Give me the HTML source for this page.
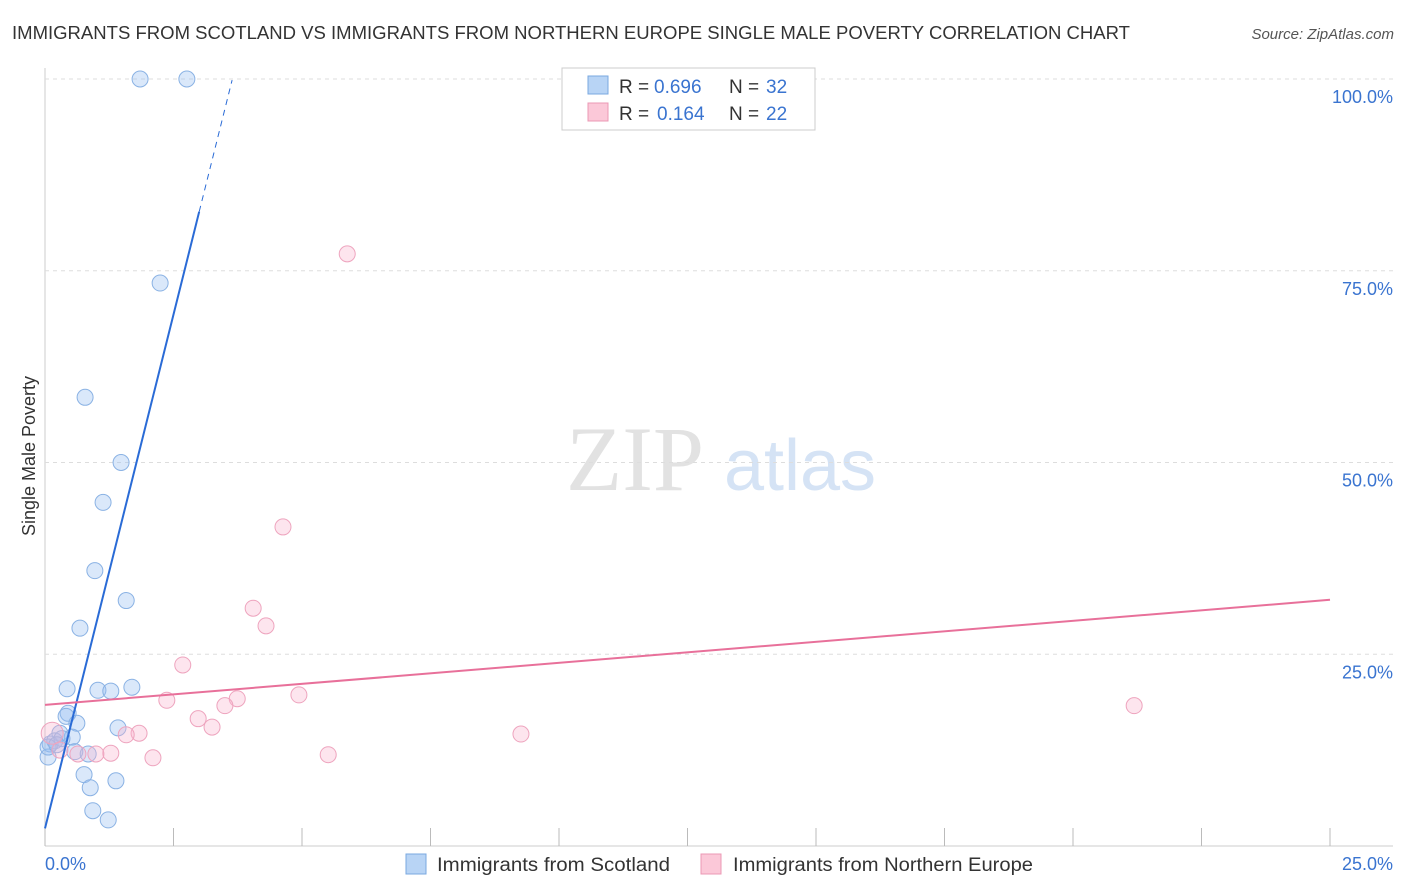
<!DOCTYPE html>
<html><head><meta charset="utf-8"><style>
body{margin:0;background:#fff;font-family:"Liberation Sans",sans-serif;}
svg{display:block}
</style></head><body>
<svg id="chart" width="1406" height="892">
<text x="12" y="39" font-size="18" fill="#333" textLength="1118" lengthAdjust="spacingAndGlyphs">IMMIGRANTS FROM SCOTLAND VS IMMIGRANTS FROM NORTHERN EUROPE SINGLE MALE POVERTY CORRELATION CHART</text>
<text x="1394" y="39" font-size="15" fill="#555" font-style="italic" text-anchor="end">Source: ZipAtlas.com</text>
<text x="35" y="456" font-size="18" fill="#333" transform="rotate(-90 35 456)" text-anchor="middle">Single Male Poverty</text>
<g><text x="635" y="490" font-size="92" fill="#e2e2e2" font-family="Liberation Serif,serif" text-anchor="middle">ZIP</text><text x="800" y="490" font-size="72" fill="#d5e3f5" text-anchor="middle">atlas</text></g>
<g id="grid"></g><g id="marks"></g>
<g>
<rect x="562" y="68" width="253" height="62" fill="#fff" stroke="#ccc"/>
<rect x="588" y="76" width="20" height="18" fill="#b8d4f5" stroke="#7aa8e0"/>
<rect x="588" y="103" width="20" height="18" fill="#fbc8d8" stroke="#eb98b4"/>
<text x="619" y="93" font-size="19" fill="#333">R =</text><text x="654" y="93" font-size="19" fill="#3a74d0">0.696</text>
<text x="729" y="93" font-size="19" fill="#333">N =</text><text x="766" y="93" font-size="19" fill="#3a74d0">32</text>
<text x="619" y="120" font-size="19" fill="#333">R =</text><text x="657" y="120" font-size="19" fill="#3a74d0">0.164</text>
<text x="729" y="120" font-size="19" fill="#333">N =</text><text x="766" y="120" font-size="19" fill="#3a74d0">22</text>
</g>
<g>
<rect x="406" y="854" width="20" height="20" fill="#b8d4f5" stroke="#7aa8e0"/>
<text x="437" y="871" font-size="19" fill="#333" textLength="233" lengthAdjust="spacingAndGlyphs">Immigrants from Scotland</text>
<rect x="701" y="854" width="20" height="20" fill="#fbc8d8" stroke="#eb98b4"/>
<text x="733" y="871" font-size="19" fill="#333" textLength="300" lengthAdjust="spacingAndGlyphs">Immigrants from Northern Europe</text>
</g>
</svg>
<script>
const yTicks=[25,50,75,100];
const yTickLabels=["25.0%","50.0%","75.0%","100.0%"];
const xTicks=[0,2.5,5,7.5,10,12.5,15,17.5,20,22.5,25];
const scotX=[1.85,2.76,2.24,0.78,1.48,1.13,0.97,1.58,0.68,0.43,1.03,1.28,1.69,0.45,0.41,0.62,1.42,0.29,0.53,0.10,0.19,0.33,0.06,0.58,0.84,0.76,0.88,1.38,0.93,1.23,0.06,0.23];
const scotY=[100,100,73.4,58.5,50.0,44.8,35.9,32.0,28.4,20.5,20.3,20.2,20.7,17.3,16.9,16.0,15.4,14.7,14.2,13.3,13.7,14.0,11.6,12.3,12.0,9.3,7.6,8.5,4.6,3.4,12.9,13.2];
const neX=[5.88,4.63,4.05,4.30,2.68,2.37,3.74,4.94,3.50,2.98,3.25,1.83,1.58,1.28,0.99,0.64,2.10,5.51,9.26,21.19,0.14,0.29];
const neY=[77.2,41.6,31.0,28.7,23.6,19.0,19.2,19.7,18.3,16.6,15.5,14.7,14.5,12.1,12.0,12.0,11.5,11.9,14.6,18.3,14.7,12.5];
const scotTrend=[2.3,26.8]; // intercept, slope
const neTrend=[18.4,0.548];
const X=v=>45+v*51.4, Y=v=>846-v*7.67;
const NS="http://www.w3.org/2000/svg";
function mk(t,a,p){const e=document.createElementNS(NS,t);for(const k in a)e.setAttribute(k,a[k]);p.appendChild(e);return e;}
const grid=document.getElementById('grid'),marks=document.getElementById('marks');
mk('line',{x1:45,y1:68,x2:45,y2:846,stroke:'#ccc'},grid);
mk('line',{x1:45,y1:846,x2:1393,y2:846,stroke:'#ccc'},grid);
yTicks.forEach((t,i)=>{
 const g=mk('line',{x1:45,y1:Y(t),x2:1393,y2:Y(t),stroke:'#ddd','stroke-dasharray':'4,4'},grid);
 
 
 const l=mk('text',{x:1393,y:Y(t)+24,'font-size':18,fill:'#3a74d0','text-anchor':'end'},grid);
 l.textContent=yTickLabels[i];
 
 
});
xTicks.forEach(t=>{
 const k=mk('line',{x1:X(t),y1:828,x2:X(t),y2:846,stroke:'#bbb'},grid);
 
 
});
const xl0=mk('text',{x:45,y:870,'font-size':18,fill:'#3a74d0'},grid);xl0.textContent="0.0%";


const xl1=mk('text',{x:1393,y:870,'font-size':18,fill:'#3a74d0','text-anchor':'end'},grid);xl1.textContent="25.0%";


scotX.forEach((x,i)=>{
 const c=mk('circle',{cx:X(x),cy:Y(scotY[i]),r:8,fill:'rgba(150,190,240,0.35)',stroke:'#8ab2e4','stroke-width':1},marks);
 
 
});
neX.forEach((x,i)=>{
 const c=mk('circle',{cx:X(x),cy:Y(neY[i]),r:i==20?11:8,fill:'rgba(248,180,205,0.35)',stroke:'#eea4be','stroke-width':1},marks);
 
 
});
const sEnd=3.0,sDash=3.64;
const l1=mk('line',{x1:X(0),y1:Y(scotTrend[0]),x2:X(sEnd),y2:Y(scotTrend[0]+scotTrend[1]*sEnd),stroke:'#2a6bd6','stroke-width':2},marks);


const l2=mk('line',{x1:X(sEnd),y1:Y(scotTrend[0]+scotTrend[1]*sEnd),x2:X(sDash),y2:Y(scotTrend[0]+scotTrend[1]*sDash),stroke:'#2a6bd6','stroke-width':1,'stroke-dasharray':'6,5'},marks);


const l3=mk('line',{x1:X(0),y1:Y(neTrend[0]),x2:X(25),y2:Y(neTrend[0]+neTrend[1]*25),stroke:'#e8709a','stroke-width':2},marks);


</script>
</body></html>
